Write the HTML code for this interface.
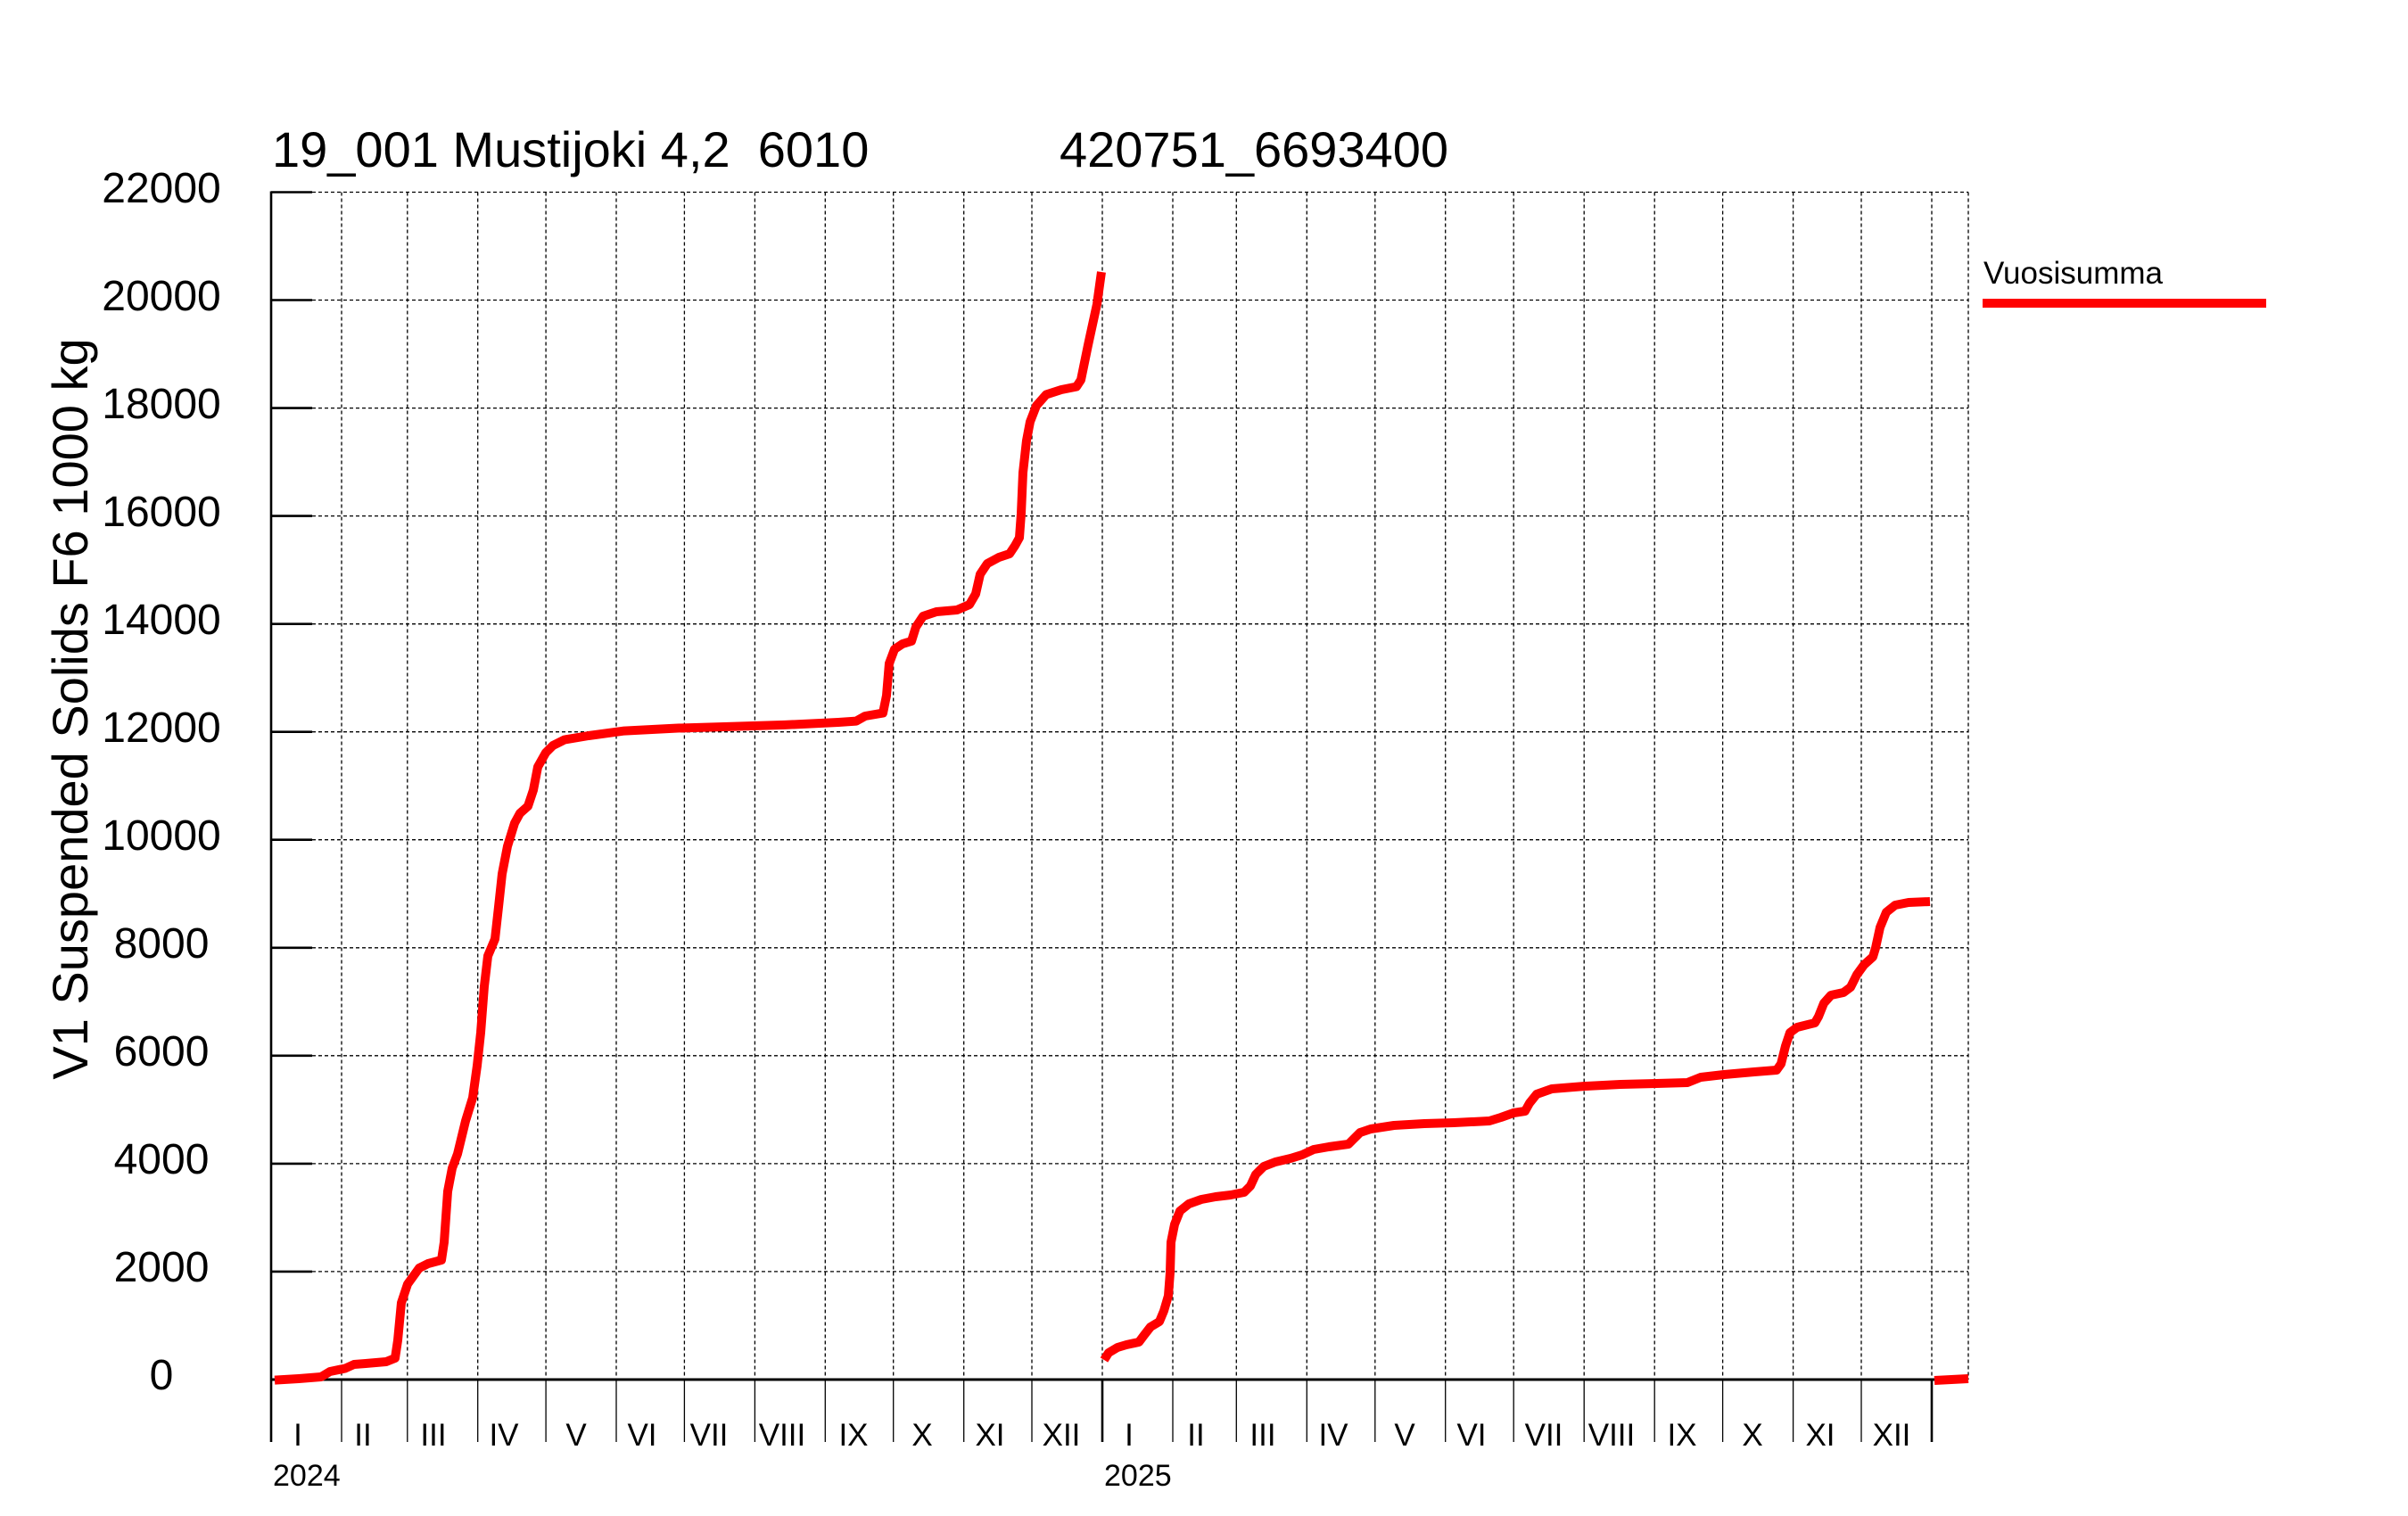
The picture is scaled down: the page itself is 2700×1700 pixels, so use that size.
<!DOCTYPE html>
<html><head><meta charset="utf-8"><style>
html,body{margin:0;padding:0;background:#fff;}
svg{display:block;}
text{font-family:"Liberation Sans",Arial,sans-serif;fill:#000;}
</style></head><body>
<svg width="2700" height="1700" viewBox="0 0 2700 1700" xmlns="http://www.w3.org/2000/svg">
<rect width="2700" height="1700" fill="#fff"/>
<!-- horizontal dashed grid -->
<g stroke="#000" stroke-width="1.3" stroke-dasharray="4 3" fill="none">
<line x1="350" y1="215.5" x2="2207" y2="215.5"/>
<line x1="350" y1="336.5" x2="2207" y2="336.5"/>
<line x1="350" y1="457.6" x2="2207" y2="457.6"/>
<line x1="350" y1="578.6" x2="2207" y2="578.6"/>
<line x1="350" y1="699.7" x2="2207" y2="699.7"/>
<line x1="350" y1="820.7" x2="2207" y2="820.7"/>
<line x1="350" y1="941.7" x2="2207" y2="941.7"/>
<line x1="350" y1="1062.8" x2="2207" y2="1062.8"/>
<line x1="350" y1="1183.8" x2="2207" y2="1183.8"/>
<line x1="350" y1="1304.9" x2="2207" y2="1304.9"/>
<line x1="350" y1="1425.9" x2="2207" y2="1425.9"/>
<!-- vertical dashed grid -->
<line x1="383" y1="215.5" x2="383" y2="1547"/>
<line x1="456.8" y1="215.5" x2="456.8" y2="1547"/>
<line x1="535.7" y1="215.5" x2="535.7" y2="1547"/>
<line x1="612.1" y1="215.5" x2="612.1" y2="1547"/>
<line x1="691" y1="215.5" x2="691" y2="1547"/>
<line x1="767.4" y1="215.5" x2="767.4" y2="1547"/>
<line x1="846.4" y1="215.5" x2="846.4" y2="1547"/>
<line x1="925.3" y1="215.5" x2="925.3" y2="1547"/>
<line x1="1001.7" y1="215.5" x2="1001.7" y2="1547"/>
<line x1="1080.7" y1="215.5" x2="1080.7" y2="1547"/>
<line x1="1157" y1="215.5" x2="1157" y2="1547"/>
<line x1="1236" y1="215.5" x2="1236" y2="1547"/>
<line x1="1315" y1="215.5" x2="1315" y2="1547"/>
<line x1="1386.3" y1="215.5" x2="1386.3" y2="1547"/>
<line x1="1465.3" y1="215.5" x2="1465.3" y2="1547"/>
<line x1="1541.8" y1="215.5" x2="1541.8" y2="1547"/>
<line x1="1620.7" y1="215.5" x2="1620.7" y2="1547"/>
<line x1="1697.2" y1="215.5" x2="1697.2" y2="1547"/>
<line x1="1776.2" y1="215.5" x2="1776.2" y2="1547"/>
<line x1="1855.2" y1="215.5" x2="1855.2" y2="1547"/>
<line x1="1931.6" y1="215.5" x2="1931.6" y2="1547"/>
<line x1="2010.6" y1="215.5" x2="2010.6" y2="1547"/>
<line x1="2087" y1="215.5" x2="2087" y2="1547"/>
<line x1="2166" y1="215.5" x2="2166" y2="1547"/>
<line x1="2207" y1="215.5" x2="2207" y2="1547"/>
</g>
<!-- month separators below zero -->
<g stroke="#000" stroke-width="1.3">
<line x1="383" y1="1547" x2="383" y2="1617"/>
<line x1="456.8" y1="1547" x2="456.8" y2="1617"/>
<line x1="535.7" y1="1547" x2="535.7" y2="1617"/>
<line x1="612.1" y1="1547" x2="612.1" y2="1617"/>
<line x1="691" y1="1547" x2="691" y2="1617"/>
<line x1="767.4" y1="1547" x2="767.4" y2="1617"/>
<line x1="846.4" y1="1547" x2="846.4" y2="1617"/>
<line x1="925.3" y1="1547" x2="925.3" y2="1617"/>
<line x1="1001.7" y1="1547" x2="1001.7" y2="1617"/>
<line x1="1080.7" y1="1547" x2="1080.7" y2="1617"/>
<line x1="1157" y1="1547" x2="1157" y2="1617"/>
<line x1="1315" y1="1547" x2="1315" y2="1617"/>
<line x1="1386.3" y1="1547" x2="1386.3" y2="1617"/>
<line x1="1465.3" y1="1547" x2="1465.3" y2="1617"/>
<line x1="1541.8" y1="1547" x2="1541.8" y2="1617"/>
<line x1="1620.7" y1="1547" x2="1620.7" y2="1617"/>
<line x1="1697.2" y1="1547" x2="1697.2" y2="1617"/>
<line x1="1776.2" y1="1547" x2="1776.2" y2="1617"/>
<line x1="1855.2" y1="1547" x2="1855.2" y2="1617"/>
<line x1="1931.6" y1="1547" x2="1931.6" y2="1617"/>
<line x1="2010.6" y1="1547" x2="2010.6" y2="1617"/>
<line x1="2087" y1="1547" x2="2087" y2="1617"/>
</g>
<!-- axes -->
<g stroke="#000" stroke-width="2.6">
<line x1="304" y1="214.5" x2="304" y2="1617"/>
<line x1="1236" y1="1547" x2="1236" y2="1617"/>
<line x1="2166" y1="1547" x2="2166" y2="1617"/>
<line x1="304" y1="1547" x2="2207" y2="1547" stroke-width="3"/>
<line x1="304" y1="215.5" x2="350" y2="215.5"/>
<line x1="304" y1="336.5" x2="350" y2="336.5"/>
<line x1="304" y1="457.6" x2="350" y2="457.6"/>
<line x1="304" y1="578.6" x2="350" y2="578.6"/>
<line x1="304" y1="699.7" x2="350" y2="699.7"/>
<line x1="304" y1="820.7" x2="350" y2="820.7"/>
<line x1="304" y1="941.7" x2="350" y2="941.7"/>
<line x1="304" y1="1062.8" x2="350" y2="1062.8"/>
<line x1="304" y1="1183.8" x2="350" y2="1183.8"/>
<line x1="304" y1="1304.9" x2="350" y2="1304.9"/>
<line x1="304" y1="1425.9" x2="350" y2="1425.9"/>
</g>
<!-- y tick labels -->
<g font-size="48" text-anchor="middle">
<text x="181" y="227">22000</text>
<text x="181" y="348">20000</text>
<text x="181" y="469">18000</text>
<text x="181" y="590">16000</text>
<text x="181" y="711">14000</text>
<text x="181" y="832">12000</text>
<text x="181" y="953">10000</text>
<text x="181" y="1074">8000</text>
<text x="181" y="1195">6000</text>
<text x="181" y="1316">4000</text>
<text x="181" y="1437">2000</text>
<text x="181" y="1558">0</text>
</g>
<!-- month labels -->
<g font-size="35" text-anchor="middle">
<text x="334" y="1621">I</text>
<text x="407" y="1621">II</text>
<text x="486" y="1621">III</text>
<text x="565" y="1621">IV</text>
<text x="646" y="1621">V</text>
<text x="720" y="1621">VI</text>
<text x="795" y="1621">VII</text>
<text x="877" y="1621">VIII</text>
<text x="957" y="1621">IX</text>
<text x="1034" y="1621">X</text>
<text x="1110" y="1621">XI</text>
<text x="1190" y="1621">XII</text>
<text x="1266" y="1621">I</text>
<text x="1341" y="1621">II</text>
<text x="1416" y="1621">III</text>
<text x="1495" y="1621">IV</text>
<text x="1575" y="1621">V</text>
<text x="1650" y="1621">VI</text>
<text x="1731" y="1621">VII</text>
<text x="1807" y="1621">VIII</text>
<text x="1886" y="1621">IX</text>
<text x="1965" y="1621">X</text>
<text x="2041" y="1621">XI</text>
<text x="2121" y="1621">XII</text>
</g>
<g font-size="34">
<text x="306" y="1666">2024</text>
<text x="1238" y="1666">2025</text>
</g>
<!-- title -->
<text x="305" y="187" font-size="56">19_001 Mustijoki 4,2&#160; 6010</text>
<text x="1188" y="187" font-size="56">420751_6693400</text>
<!-- y axis title -->
<text transform="translate(98,795) rotate(-90)" font-size="56" text-anchor="middle">V1 Suspended Solids F6 1000 kg</text>
<!-- legend -->
<text x="2224" y="318" font-size="35">Vuosisumma</text>
<rect x="2223" y="335" width="318" height="10" fill="#ff0000"/>
<!-- series -->
<g fill="none" stroke="#ff0000" stroke-width="10" stroke-linejoin="round" stroke-linecap="butt">
<polyline points="308,1547.6 335,1546 360,1544 370,1538 387,1534.5 397,1530 410,1529 433,1527 443,1523 446,1503 450,1461 457,1440 470,1422 480,1417 495,1413 498,1393 502,1336 507,1310 513,1294 522,1257 530,1231 535,1195 539,1158 543,1106 547,1072 555,1053 559,1017 563,980 569,949 577,923 583,912 592,904 598,886 603,860 612,844 620,836 633,829.5 660,825 700,819.6 760,816.5 820,814.7 880,812.9 940,810 960,808.6 970,803 990,799.6 994,780 997,744 1003,728 1012,722 1022,719 1027,703 1035,691 1050,686 1073,684 1087,678 1094,666 1099,644 1107,632 1120,625 1132,621 1138,612 1143,603 1145,576 1147,530 1151,494 1155,473 1162,455 1173,442.5 1190,437 1207,433.6 1212,426 1220,387 1230,341 1235,305"/>
<polyline points="1238,1525 1243,1517 1253,1511 1263,1508 1277,1505 1283,1497 1290,1488 1300,1482 1305,1470 1310,1453 1312,1427 1313,1393 1317,1373 1323,1358 1333,1350 1347,1345 1363,1342 1380,1340 1395,1337 1402,1330 1408,1317 1417,1308 1430,1303 1447,1299 1460,1295 1473,1289 1490,1286 1512,1283 1517,1278 1525,1270 1537,1266 1563,1262 1597,1260 1630,1259 1670,1257 1683,1253 1697,1248 1710,1246 1715,1237 1723,1227 1740,1221 1777,1218 1817,1216 1857,1215 1892,1214 1907,1208 1933,1205 1967,1202 1992,1200 1997,1193 2002,1173 2007,1158 2015,1152 2035,1147 2039,1140 2045,1125 2053,1116 2067,1113 2075,1107 2082,1093 2090,1082 2100,1073 2103,1063 2108,1040 2115,1023 2125,1015 2140,1012 2164,1011"/>
<polyline points="2169,1548 2207,1546"/>
</g>
</svg>
</body></html>
